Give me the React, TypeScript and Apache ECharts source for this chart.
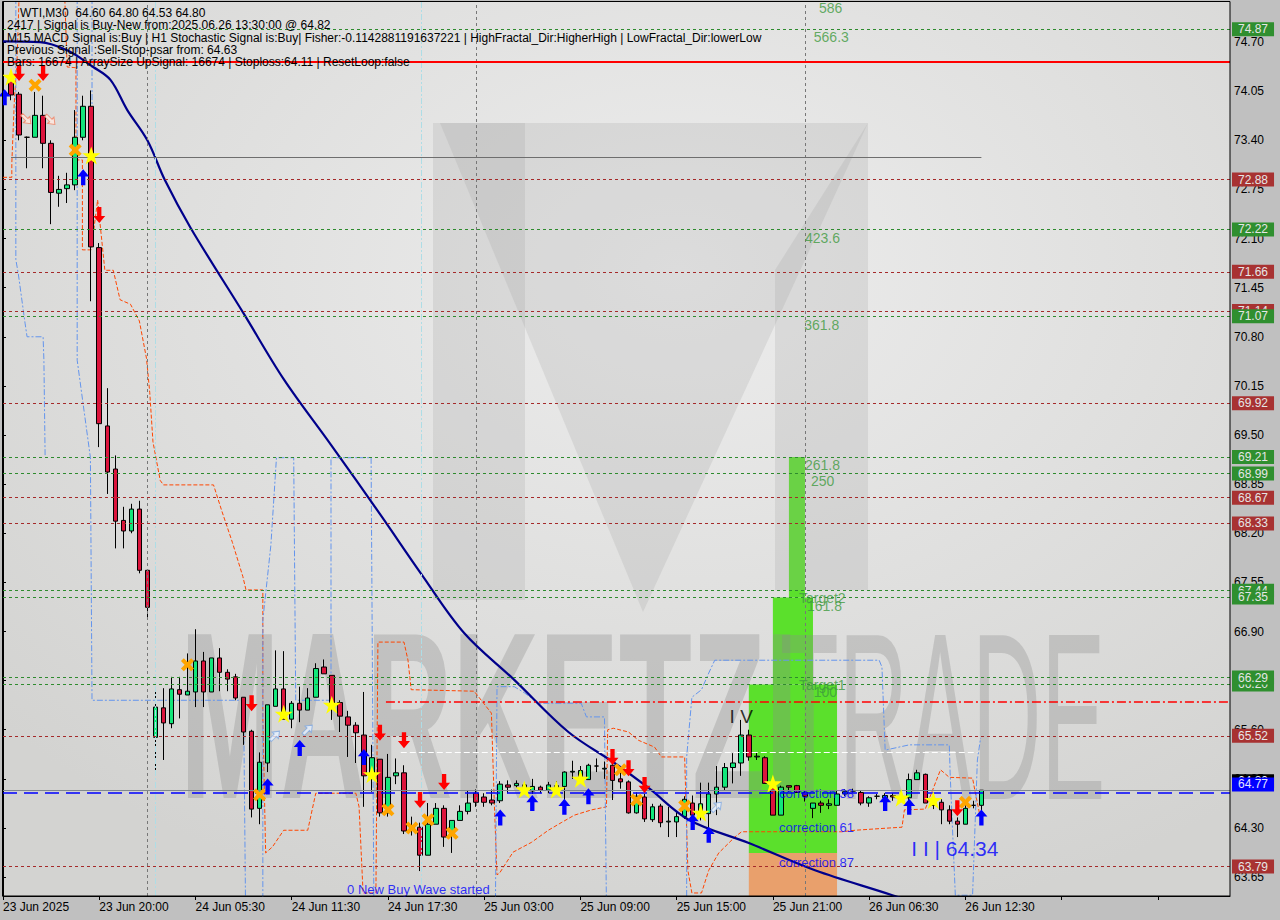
import React, { useEffect, useRef } from "react";
import * as echarts from "echarts";

// ---------------- DATA ----------------
const SLOTS = 154; // bar slots on the time axis (bar j sits at slot j+1)
const tickLabels = [
  "23 Jun 2025", "23 Jun 20:00", "24 Jun 05:30", "24 Jun 11:30", "24 Jun 17:30",
  "25 Jun 03:00", "25 Jun 09:00", "25 Jun 15:00", "25 Jun 21:00", "26 Jun 06:30", "26 Jun 12:30",
];
const TICK_EVERY = 12;
const priceTicks = [63.65, 64.3, 64.95, 65.6, 66.25, 66.9, 67.55, 68.2, 68.85, 69.5, 70.15, 70.8, 71.45, 72.1, 72.75, 73.4, 74.05, 74.7];

// [open, close, low, high]
const ohlc: number[][] = [
  [74.20, 74.00, 73.93, 74.30], [74.01, 73.47, 73.40, 74.04], [73.44, 73.44, 73.03, 73.45], [73.44, 73.73, 73.44, 74.04],
  [73.73, 73.36, 73.03, 73.99], [73.36, 72.71, 72.29, 73.40], [72.70, 72.75, 72.52, 72.93], [72.76, 72.81, 72.57, 72.97],
  [72.81, 73.44, 72.74, 73.80], [73.44, 73.85, 73.40, 73.99], [73.85, 71.99, 71.27, 74.06], [71.98, 69.65, 69.34, 72.04],
  [69.62, 69.01, 68.72, 70.12], [69.05, 68.36, 68.00, 69.23], [68.37, 68.23, 68.00, 68.55], [68.23, 68.52, 68.20, 68.59],
  [68.52, 67.71, 67.67, 68.63], [67.71, 67.22, 67.06, 67.71], [65.50, 65.90, 65.00, 66.11], [65.89, 65.69, 65.20, 66.15],
  [65.68, 66.14, 65.62, 66.30], [66.13, 66.07, 65.75, 66.30], [66.06, 66.11, 66.06, 66.61], [66.10, 66.51, 65.90, 66.93],
  [66.51, 66.10, 65.90, 66.63], [66.10, 66.55, 66.10, 66.55], [66.55, 66.36, 66.11, 66.68], [66.36, 66.27, 66.11, 66.40],
  [66.30, 66.02, 65.99, 66.34], [66.03, 65.57, 65.40, 66.03], [65.58, 64.55, 64.44, 65.60], [64.56, 65.17, 64.35, 65.30],
  [65.16, 65.93, 65.04, 65.93], [65.91, 66.14, 65.91, 66.65], [66.14, 65.74, 65.74, 66.64], [65.74, 65.95, 65.62, 65.98],
  [65.95, 65.86, 65.70, 66.17], [65.86, 66.02, 65.86, 66.15], [66.03, 66.41, 66.03, 66.48], [66.43, 66.34, 66.34, 66.53],
  [66.32, 65.91, 65.73, 66.32], [65.96, 65.78, 65.57, 65.99], [65.77, 65.66, 65.24, 65.85], [65.66, 65.56, 65.16, 65.70],
  [65.53, 64.99, 64.58, 66.10], [65.00, 65.23, 64.78, 65.40], [65.21, 64.50, 64.45, 65.21], [64.50, 64.97, 64.45, 65.28],
  [64.99, 65.03, 64.88, 65.22], [65.03, 64.26, 64.22, 65.13], [64.33, 64.28, 64.20, 64.45], [64.31, 63.94, 63.73, 64.37],
  [63.94, 64.35, 63.94, 64.63], [64.35, 64.56, 64.35, 64.63], [64.56, 64.18, 64.05, 64.60], [64.23, 64.40, 63.97, 64.40],
  [64.40, 64.52, 64.40, 64.60], [64.52, 64.63, 64.48, 64.80], [64.76, 64.64, 64.58, 64.81], [64.71, 64.64, 64.58, 64.76],
  [64.67, 64.63, 64.60, 64.81], [64.66, 64.88, 64.63, 64.92], [64.87, 64.84, 64.76, 64.93], [64.86, 64.89, 64.83, 64.93],
  [64.83, 64.87, 64.78, 64.90], [64.79, 64.85, 64.75, 64.95], [64.84, 64.80, 64.76, 64.86], [64.80, 64.87, 64.76, 64.91],
  [64.82, 64.86, 64.78, 64.92], [64.85, 65.04, 64.67, 65.05], [65.04, 65.05, 64.95, 65.19], [64.98, 65.06, 64.92, 65.12],
  [64.94, 65.13, 64.94, 65.15], [65.12, 65.12, 65.04, 65.22], [65.08, 65.09, 64.95, 65.18], [65.13, 64.93, 64.67, 65.22],
  [64.95, 64.91, 64.82, 65.07], [64.91, 64.50, 64.49, 64.93], [64.50, 64.72, 64.49, 64.77], [64.71, 64.42, 64.38, 64.75],
  [64.41, 64.58, 64.38, 64.62], [64.59, 64.37, 64.31, 64.62], [64.38, 64.39, 64.18, 64.58], [64.38, 64.45, 64.18, 64.52],
  [64.45, 64.68, 64.42, 64.72], [64.63, 64.47, 64.35, 64.73], [64.47, 64.62, 64.40, 64.90], [64.49, 64.75, 64.28, 64.90],
  [64.75, 64.84, 64.47, 65.12], [64.84, 65.10, 64.80, 65.16], [65.10, 65.16, 64.89, 65.29], [65.16, 65.53, 64.99, 65.73],
  [65.53, 65.24, 65.19, 65.60], [65.24, 65.25, 65.20, 65.30], [65.23, 64.89, 64.89, 65.25], [64.83, 64.47, 64.47, 64.89],
  [64.47, 64.84, 64.47, 64.86], [64.86, 64.84, 64.78, 64.86], [64.86, 64.77, 64.77, 64.87], [64.77, 64.72, 64.65, 64.80],
  [64.56, 64.63, 64.43, 64.63], [64.63, 64.60, 64.50, 64.66], [64.60, 64.62, 64.55, 64.68], [64.60, 64.75, 64.60, 64.79],
  [64.75, 64.78, 64.72, 64.81], [64.79, 64.79, 64.77, 64.82], [64.77, 64.63, 64.60, 64.79], [64.63, 64.70, 64.58, 64.72],
  [64.72, 64.72, 64.68, 64.75], [64.70, 64.73, 64.68, 64.76], [64.73, 64.71, 64.66, 64.76], [64.71, 64.70, 64.65, 64.78],
  [64.70, 64.94, 64.66, 65.02], [64.94, 65.03, 64.94, 65.07], [65.01, 64.63, 64.63, 65.02], [64.66, 64.60, 64.55, 64.75],
  [64.64, 64.54, 64.35, 64.68], [64.54, 64.39, 64.35, 64.60], [64.39, 64.35, 64.18, 64.44], [64.35, 64.56, 64.35, 64.60],
  [64.60, 64.60, 64.56, 64.66], [64.60, 64.80, 64.53, 64.80],
];

// moving average: [slot, price]
const maPoints = [
  [0, 74.71], [4.6, 74.7], [8, 74.59], [11.25, 74.37], [13.4, 74.2], [15.5, 73.8], [18, 73.4], [20.2, 72.87],
  [23.4, 72.24], [30, 71.11], [35, 70.24], [40.9, 69.37], [47.1, 68.44], [52.1, 67.67], [57.5, 66.88],
  [63.75, 66.26], [70.5, 65.57], [76.25, 65.16], [80.5, 64.83], [85.5, 64.41], [93, 64.1], [101.25, 63.74],
  [110.9, 63.41], [118, 63.15],
];

// orange dashed stop line: [slot, price]
const orangeStop = [
  [0, 72.91], [1.1, 72.91], [1.1, 73.1], [1.4, 73.89], [1.75, 74.46], [2.1, 75.6], [7.6, 75.6], [8, 74.37], [9.1, 74.36],
  [9.1, 73.14], [9.9, 73.14], [9.9, 71.95], [11, 71.95], [11.8, 72.61], [12.7, 71.68], [13.75, 71.68], [14.6, 71.29],
  [15.9, 71.23], [17, 71.01], [17.9, 70.51], [18.3, 70.06], [18.7, 69.41], [19.6, 68.9], [20, 68.84], [26.25, 68.84],
  [27.3, 68.49], [28.6, 68.08], [29.9, 67.63], [30.3, 67.45], [32.4, 67.45], [32.4, 65.77], [32.75, 63.97], [33.6, 64.05],
  [35, 64.27], [38, 64.27], [39, 64.76], [44, 64.76], [44.4, 64.58], [44.9, 63.44], [46.5, 63.44], [46.75, 66.76],
  [50, 66.76], [50.5, 66.52], [50.9, 66.13], [58.75, 66.11], [60.9, 65.82], [61.25, 64.67], [61.6, 63.68], [61.9, 63.7],
  [63.6, 63.98], [65.9, 64.11], [68, 64.27], [69.6, 64.37], [71.25, 64.47], [73.4, 64.54], [75.25, 64.58], [75.4, 65.6],
  [76.1, 65.62], [78, 65.57], [79.25, 65.46], [81.25, 65.37], [82.1, 65.24], [85, 65.24], [85.4, 63.74], [85.9, 63.44],
  [87.1, 63.44], [88, 63.74], [89.25, 63.97], [91.25, 64.18], [92.1, 64.25], [104.6, 64.25], [106.25, 64.27],
  [110.5, 64.3], [112.1, 64.31], [112.4, 64.54], [115, 64.55], [116.9, 65.07], [118, 64.97], [120.9, 64.96],
  [121.25, 64.76], [121.75, 64.5],
];

// blue dash-dot channel pieces: [slot, price]
const blueA = [[1.6, 75.6], [1.6, 71.82], [1.9, 71.64], [2.75, 70.98], [3, 70.8], [5, 70.8], [5.1, 70.49], [5.25, 69.23]];
const blueB = [[9.25, 75.6], [9.25, 70.49], [10.9, 69.2], [11.1, 65.99], [30, 65.99], [30.25, 63.2]];
const blueB2 = [[11.1, 75.6], [11.1, 73.14]];
const blueC = [[32.4, 63.2], [32.4, 67.05], [33.4, 68.04], [34.1, 69.2], [36.25, 69.2], [36.5, 65.99], [40.9, 65.99], [40.9, 69.2], [45.9, 69.2], [46.25, 63.2]];
const blueD = [
  [61.4, 63.2], [61.6, 66.17], [63.75, 66.17], [65, 66.09], [66.75, 65.95], [72.1, 65.95], [72.75, 65.77], [75, 65.77],
  [75.25, 63.2], [85.25, 63.2], [85.25, 65.24], [85.9, 66.03], [87.1, 66.13], [88, 66.35], [88.75, 66.52], [109.25, 66.52],
  [109.6, 66.43], [110, 65.33], [113, 65.4], [118, 65.4], [118.1, 65.03], [118.75, 63.41], [120.9, 63.41], [121.5, 65.2], [121.9, 65.49],
];

// horizontal levels shown with price boxes on the right
const greenLevels = [74.87, 72.22, 69.21, 68.99, 67.44, 66.2, 71.07, 67.35, 66.29];
const redLevels = [72.88, 71.66, 71.14, 69.92, 68.67, 68.33, 65.52, 63.79];
const bluePrice = 64.77;
const bidPrice = 64.8;
const redSolidLevel = 74.435;
const redDashDot = { from: 47.75, to: 153, price: 65.97 };
const grayLevel = { from: 1, to: 122, price: 73.18 };
const whiteLevel = { from: 49.6, to: 121.5, price: 65.3 };
const daySeparators = [18, 59, 100];
const cyanLines = [19, 52.1];

// fib projection boxes [x1, top, x2, bottom]
const greenBoxes = [[93, 66.2, 104, 63.97], [96, 67.35, 101, 66.2], [98, 69.21, 100, 67.35]];
const orangeBox = [93, 63.97, 104, 63.4];

// signal markers [slot, price]
const stars = [[1, 74.24], [11, 73.2], [35, 65.81], [41, 65.93], [46, 65.01], [65, 64.81], [69, 64.81], [72, 64.95], [87, 64.5], [96, 64.89], [112, 64.7], [116, 64.67]];
const crosses = [[4, 74.13], [9, 73.27], [23, 66.46], [32, 64.74], [48, 64.54], [51, 64.3], [53, 64.41], [56, 64.23], [77, 65.07], [79, 64.67], [85, 64.59], [120, 64.64]];
const downArrows = [[2, 74.29], [5, 74.29], [12, 72.41], [31, 65.95], [47, 65.56], [50, 65.46], [52, 64.67], [55, 64.91], [76, 65.24], [78, 65.09], [80, 64.87], [119, 64.56]];
const upArrows = [[0.2, 73.97], [10, 72.91], [33, 64.85], [37, 65.36], [45, 65.24], [62, 64.44], [66, 64.63], [70, 64.58], [73, 64.72], [86, 64.38], [88, 64.21], [110, 64.63], [113, 64.58], [122, 64.44]];
const hollowUp = [[33.9, 65.52], [38, 65.6], [89, 64.58]];
const hollowDown = [[2.9, 73.68], [5.9, 73.67]];

// text objects on the chart [text, slot, price]
const fibTexts: [string, number, number][] = [
  ["586", 101.75, 75.15], ["566.3", 101.1, 74.77], ["423.6", 100, 72.11], ["361.8", 99.9, 70.96],
  ["261.8", 100, 69.1], ["250", 100.75, 68.89], ["Target2", 99.25, 67.34], ["161.8", 100.25, 67.24],
  ["Target1", 99.25, 66.19], ["100", 101.1, 66.1],
];
const corrTexts: [string, number, number][] = [
  ["correction 38", 96.75, 64.76], ["correction 61", 96.75, 64.31], ["correction 87", 96.75, 63.84],
];
const headerLines = [
  "WTI,M30  64.60 64.80 64.53 64.80",
  "2417 | Signal is Buy-New from:2025.06.26 13:30:00 @ 64.82",
  "M15 MACD Signal is:Buy | H1 Stochastic Signal is:Buy| Fisher:-0.1142881191637221 | HighFractal_Dir:HigherHigh | LowFractal_Dir:lowerLow",
  "Previous Signal :Sell-Stop-psar from: 64.63",
  "Bars: 16674 | ArraySize UpSignal: 16674 | Stoploss:64.11 | ResetLoop:false",
];

// ---------------- CHART ----------------
const FONT = "Liberation Sans";
const STAR = "path://M50,0L61.8,35.3L99,35.3L68.9,57.1L80.4,92.7L50,70.8L19.6,92.7L31.1,57.1L1,35.3L38.2,35.3Z";
const CROSS = "path://M0,22L22,0L50,28L78,0L100,22L72,50L100,78L78,100L50,72L22,100L0,78L28,50Z";
const UP = "path://M50,0L100,45L68,45L68,100L32,100L32,45L0,45Z";
const DOWN = "path://M32,0L68,0L68,55L100,55L50,100L0,55L32,55Z";

function levelItem(p: number, line: string, box: string, extra: any = {}) {
  return {
    yAxis: p,
    lineStyle: { color: line, type: [3, 3], width: 1 },
    label: {
      show: true, position: "end", distance: 2, formatter: p.toFixed(2),
      backgroundColor: box, color: "#E6E6E6", fontSize: 12, fontFamily: FONT,
      padding: [1, 6, 0, 6], lineHeight: 13, ...extra,
    },
  };
}

function buildOption(): any {
  const cats = Array.from({ length: SLOTS }, (_, i) => String(i));
  const candleData: any[] = ["-", ...ohlc];

  const levelData: any[] = [
    { yAxis: redSolidLevel, lineStyle: { color: "#FF0000", type: "solid", width: 2 }, label: { show: false } },
    ...redLevels.map((p) => levelItem(p, "#A52A2A", "#A83232")),
    ...greenLevels.map((p) => levelItem(p, "#2E8B2E", "#2F8F2F")),
    {
      yAxis: bidPrice, lineStyle: { color: "#7F8790", type: "solid", width: 1 },
      label: { show: true, position: "end", distance: 2, formatter: "64.80", backgroundColor: "#000", color: "#fff", fontSize: 12, fontFamily: FONT, padding: [1, 6, 0, 6], lineHeight: 13, offset: [0, -9] },
    },
    {
      yAxis: bluePrice, lineStyle: { color: "#0000FF", type: [14, 7], width: 1.5 },
      label: { show: true, position: "end", distance: 2, formatter: "64.77", backgroundColor: "#0000FF", color: "#E6E6FF", fontSize: 12, fontFamily: FONT, padding: [1, 6, 0, 6], lineHeight: 13, offset: [0, -8] },
    },
    [
      { coord: [grayLevel.from, grayLevel.price], lineStyle: { color: "#6E6E6E", type: "solid", width: 1 } },
      { coord: [grayLevel.to, grayLevel.price] },
    ],
    [
      { coord: [redDashDot.from, redDashDot.price], lineStyle: { color: "#FF0000", type: [9, 3, 2, 3], width: 1.5 } },
      { coord: [redDashDot.to, redDashDot.price] },
    ],
    [
      { coord: [whiteLevel.from, whiteLevel.price], lineStyle: { color: "#FFFFFF", type: [6, 3], width: 1 } },
      { coord: [whiteLevel.to, whiteLevel.price] },
    ],
  ];

  const vData: any[] = [
    ...daySeparators.map((x) => ({ xAxis: x, lineStyle: { color: "#777", type: [3, 3], width: 1 } })),
    ...cyanLines.map((x) => ({ xAxis: x, lineStyle: { color: "#AEDDE6", type: [6, 2, 2, 2], width: 1 } })),
  ];

  const areaData: any[] = [
    ...greenBoxes.map((b) => [{ coord: [b[0], b[1]], itemStyle: { color: "#5BE02C", opacity: 1 } }, { coord: [b[2], b[3]] }]),
    [{ coord: [orangeBox[0], orangeBox[1]], itemStyle: { color: "#E9A06C", opacity: 1 } }, { coord: [orangeBox[2], orangeBox[3]] }],
  ];

  const helper = (name: string, z: number, extra: any) => ({
    name, type: "line", xAxisIndex: 1, data: [[0, null]], symbol: "none", z, silent: true,
    lineStyle: { opacity: 0 }, ...extra,
  });

  const lineSeries = (name: string, data: number[][], color: string, type: any, width = 1, z = 2.5, extra: any = {}) => ({
    name, type: "line", xAxisIndex: 1, data, symbol: "none", showSymbol: false, z, silent: true,
    lineStyle: { color, type, width }, clip: true, ...extra,
  });

  const scatter = (name: string, data: number[][], symbol: string, size: any, color: string, extra: any = {}) => ({
    name, type: "scatter", xAxisIndex: 1, data, symbol, symbolSize: size, z: 6, silent: true,
    itemStyle: { color, opacity: 1 }, ...extra,
  });

  const textSeries = (name: string, items: [string, number, number][], color: string, fontSize: number) => ({
    name, type: "scatter", xAxisIndex: 1, symbolSize: 0, z: 7, silent: true,
    data: items.map(([t, x, p]) => ({
      value: [x, p],
      label: { show: true, formatter: t, position: "right", distance: 0, color, fontSize, fontFamily: FONT },
    })),
  });

  return {
    animation: false,
    backgroundColor: "#C0C0C0",
    grid: { left: 3, right: 50, top: 2, bottom: 24, containLabel: false },
    xAxis: [
      {
        type: "category", data: cats, boundaryGap: false,
        axisLine: { show: true, lineStyle: { color: "#000", width: 1 } },
        axisTick: { show: true, interval: TICK_EVERY - 1, length: 4, lineStyle: { color: "#000" } },
        axisLabel: {
          interval: TICK_EVERY - 1, align: "left", color: "#000", fontSize: 12, fontFamily: FONT, margin: 5,
          formatter: (_v: string, i: number) => (i % TICK_EVERY === 0 && tickLabels[i / TICK_EVERY]) || "",
        },
        splitLine: { show: false },
      },
      { type: "value", min: 0, max: SLOTS - 1, show: false },
    ],
    yAxis: {
      type: "value", position: "right", min: 63.4, max: 75.23, scale: true,
      axisLine: { show: true, lineStyle: { color: "#000" } },
      axisTick: { show: true, customValues: priceTicks, length: 3, lineStyle: { color: "#000" } },
      axisLabel: { customValues: priceTicks, formatter: (v: number) => v.toFixed(2), color: "#000", fontSize: 12, fontFamily: FONT, margin: 4 },
      splitLine: { show: false },
    },
    graphic: [
      {
        type: "rect", z: -10, silent: true, shape: { x: 3, y: 2, width: 1227, height: 894 },
        style: {
          fill: new echarts.graphic.RadialGradient(0.55, 0.3, 0.75, [
            { offset: 0, color: "#EDEDED" }, { offset: 1, color: "#D3D3D1" },
          ]),
        },
      },
      // watermark logo
      { type: "polygon", z: 1.5, silent: true, shape: { points: [[440, 123], [868, 123], [643, 612]] }, style: { fill: "rgba(160,160,160,0.22)" } },
      { type: "polygon", z: 1.5, silent: true, shape: { points: [[433, 123], [525, 123], [525, 600], [433, 600]] }, style: { fill: "rgba(160,160,160,0.22)" } },
      { type: "polygon", z: 1.5, silent: true, shape: { points: [[775, 270], [868, 123], [868, 590], [775, 590]] }, style: { fill: "rgba(160,160,160,0.22)" } },
      { type: "text", z: 1.5, silent: true, x: 180, y: 716, scaleX: 0.505, style: { text: "MARKETZI", fontSize: 237, fontWeight: "bold", fontFamily: FONT, fill: "rgba(140,140,140,0.33)", verticalAlign: "middle", align: "left" } },
      { type: "text", z: 1.5, silent: true, x: 780, y: 716, scaleX: 0.405, style: { text: "TRADE", fontSize: 237, fontFamily: FONT, fill: "rgba(140,140,140,0.33)", verticalAlign: "middle", align: "left" } },
      // frame
      { type: "rect", z: 20, silent: true, shape: { x: 2.5, y: 1.5, width: 1227.5, height: 894.5 }, style: { fill: "none", stroke: "#000", lineWidth: 1 } },
      // header
      ...headerLines.map((t, i) => ({
        type: "text", z: 20, silent: true, x: i === 0 ? 20 : 7, y: [12.5, 25, 37.5, 50, 62][i],
        style: { text: t, fill: "#000", fontSize: 12, fontFamily: FONT, verticalAlign: "middle", align: "left" },
      })),
    ],
    series: [
      helper("verticals", 1, { markLine: { silent: true, symbol: ["none", "none"], label: { show: false }, data: vData, animation: false } }),
      helper("boxes", 1, { markArea: { silent: true, data: areaData, animation: false, z: 1 } }),
      helper("levels", 1, { markLine: { silent: true, symbol: ["none", "none"], data: levelData, animation: false } }),
      lineSeries("stopOrange", orangeStop, "#FF4500", [4, 2]),
      lineSeries("chanA", blueA, "#6495ED", [6, 2, 2, 2]),
      lineSeries("chanB", blueB, "#6495ED", [6, 2, 2, 2]),
      lineSeries("chanB2", blueB2, "#6495ED", [6, 2, 2, 2]),
      lineSeries("chanC", blueC, "#6495ED", [6, 2, 2, 2]),
      lineSeries("chanD", blueD, "#6495ED", [6, 2, 2, 2]),
      {
        name: "WTI", type: "candlestick", xAxisIndex: 0, data: candleData, barWidth: 5, z: 3, silent: true,
        itemStyle: { color: "#12E67A", color0: "#DC143C", borderColor: "#000", borderColor0: "#000", borderWidth: 1 },
      },
      lineSeries("MA", maPoints, "#00008B", "solid", 2.2, 4, { smooth: 0.35 }),
      scatter("stars", stars, STAR, 18, "#FFFF00"),
      scatter("crosses", crosses, CROSS, 13, "#FFA500"),
      scatter("down", downArrows, DOWN, [12, 16], "#FF0000"),
      scatter("up", upArrows, UP, [12, 16], "#0000FF"),
      scatter("hollowUp", hollowUp, UP, [9, 13], "#E8F2FF", { symbolRotate: -45, itemStyle: { color: "#E8F2FF", borderColor: "#7FA8E0", borderWidth: 1 } }),
      scatter("hollowDown", hollowDown, DOWN, [9, 13], "#FFE8E0", { symbolRotate: 45, itemStyle: { color: "#FFE8E0", borderColor: "#F08060", borderWidth: 1 } }),
      textSeries("fib", fibTexts, "#3F9A3F", 14),
      textSeries("corr", corrTexts, "#0000FF", 13),
      textSeries("wave", [["0 New Buy Wave started", 42.9, 63.48]], "#0000FF", 13),
      textSeries("iv", [["I V", 90.6, 65.77]], "#000000", 19),
      textSeries("ii", [["I I | 64.34", 113.25, 64.03]], "#0000FF", 21),
    ],
  };
}

export default function App() {
  const ref = useRef<HTMLDivElement>(null);
  useEffect(() => {
    if (!ref.current) return;
    const chart = echarts.init(ref.current, null, { renderer: "svg" });
    chart.setOption(buildOption());
    return () => chart.dispose();
  }, []);
  return <div ref={ref} style={{ position: "fixed", left: 0, top: 0, width: 1280, height: 920 }} />;
}
